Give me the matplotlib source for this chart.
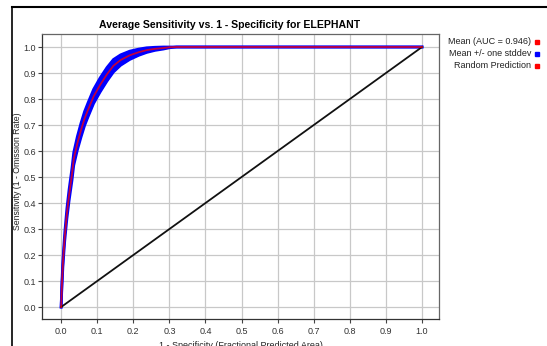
import matplotlib
matplotlib.use("Agg")
import matplotlib.pyplot as plt
from matplotlib.lines import Line2D
from matplotlib.patches import Rectangle
import numpy as np

plt.rcParams['font.family'] = ['Liberation Sans', 'DejaVu Sans']

# Data
fpr = [0.0, 0.002, 0.005, 0.01, 0.016, 0.022, 0.03, 0.035, 0.045, 0.055, 0.065, 0.075,
       0.09, 0.108, 0.127, 0.145, 0.165, 0.19, 0.215, 0.237, 0.26, 0.283, 0.30, 0.32, 0.4,
       0.6, 0.8, 1.0]
tpr_mean = [0.0, 0.08, 0.17, 0.27, 0.36, 0.43, 0.51, 0.57, 0.63, 0.68, 0.725, 0.76,
            0.81, 0.854, 0.895, 0.928, 0.95, 0.968, 0.98, 0.988, 0.993, 0.996, 0.999, 1.0, 1.0,
            1.0, 1.0, 1.0]
tpr_std = [0.0, 0.008, 0.012, 0.016, 0.02, 0.022, 0.024, 0.025, 0.026, 0.027, 0.027, 0.027,
           0.027, 0.027, 0.026, 0.024, 0.02, 0.016, 0.012, 0.009, 0.006, 0.004, 0.002, 0.0, 0.0,
           0.0, 0.0, 0.0]
random_x = [0.0, 1.0]
random_y = [0.0, 1.0]
auc = 0.946
ticks = [0.0, 0.1, 0.2, 0.3, 0.4, 0.5, 0.6, 0.7, 0.8, 0.9, 1.0]
title = "Average Sensitivity vs. 1 - Specificity for ELEPHANT"
xlabel = "1 - Specificity (Fractional Predicted Area)"
ylabel = "Sensitivity (1 - Omission Rate)"
legend_labels = [f"Mean (AUC = {auc:.3f})", "Mean +/- one stddev", "Random Prediction"]
legend_colors = ["#ff0000", "#0000ff", "#ff0000"]

W, H = 547, 346
fig = plt.figure(figsize=(W / 100, H / 100), dpi=100)
fig.patch.set_facecolor('white')

# axes placement in pixels
L, R, T, B = 42, 439, 34, 319
ax = fig.add_axes([L / W, 1 - B / H, (R - L) / W, (B - T) / H])

x = np.array(fpr)
m = np.array(tpr_mean)
s = np.array(tpr_std)
upper = np.minimum(m + s, 1.0)
lower = m - s
ax.fill_between(x, lower, upper, color='#0000ff', lw=0, zorder=2)
ax.plot(x, upper, color='#0000ff', lw=2.0, zorder=2)
ax.plot(x, lower, color='#0000ff', lw=2.0, zorder=2)
ax.plot(random_x, random_y, color='#111111', lw=1.3, zorder=3)
ax.plot(x, m, color='#ff0000', lw=1.3, alpha=0.75, zorder=4)

ax.set_xlim(-0.053, 1.047)
ax.set_ylim(-0.046, 1.05)
ax.set_xticks(ticks)
ax.set_yticks(ticks)
ax.set_xticklabels([f"{t:.1f}" for t in ticks])
ax.set_yticklabels([f"{t:.1f}" for t in ticks])
ax.grid(True, color='#c8c8c8', lw=0.9)
ax.set_axisbelow(True)
ax.tick_params(direction='out', length=3, width=0.8, colors='#444444', labelsize=6.5,
               labelcolor='#333333', pad=3)
ax.tick_params(axis='y', pad=1.5)
for sp in ax.spines.values():
    sp.set_color('#666666')
    sp.set_linewidth(0.9)
ax.spines['left'].set_color('#333333')
ax.spines['bottom'].set_color('#333333')

ax.set_title(title, fontsize=7.6, fontweight='bold', pad=4, x=(230 - L) / (R - L))
ax.set_xlabel(xlabel, fontsize=6.5, color='#222222', labelpad=3)
ax.set_ylabel(ylabel, fontsize=6.3, color='#222222')
ax.yaxis.set_label_coords((22 - L) / (R - L), 0.52)

# legend at right
ys = [42, 54, 66]
for lab, col, yy in zip(legend_labels, legend_colors, ys):
    fig.text(531 / W, 1 - yy / H, lab, ha='right', va='center', fontsize=6.5, color='#222222')
    fig.patches.append(Rectangle((535 / W, 1 - (yy + 2) / H), 4 / W, 4 / H,
                                 transform=fig.transFigure, color=col, figure=fig))

# page border lines
fig.add_artist(Line2D([12 / W, 12 / W], [0, 1 - 7 / H], transform=fig.transFigure,
                      color='black', lw=1.2))
fig.add_artist(Line2D([12 / W, 1], [1 - 7 / H, 1 - 7 / H], transform=fig.transFigure,
                      color='black', lw=1.5))

fig.savefig("out.png", dpi=100, facecolor='white')
